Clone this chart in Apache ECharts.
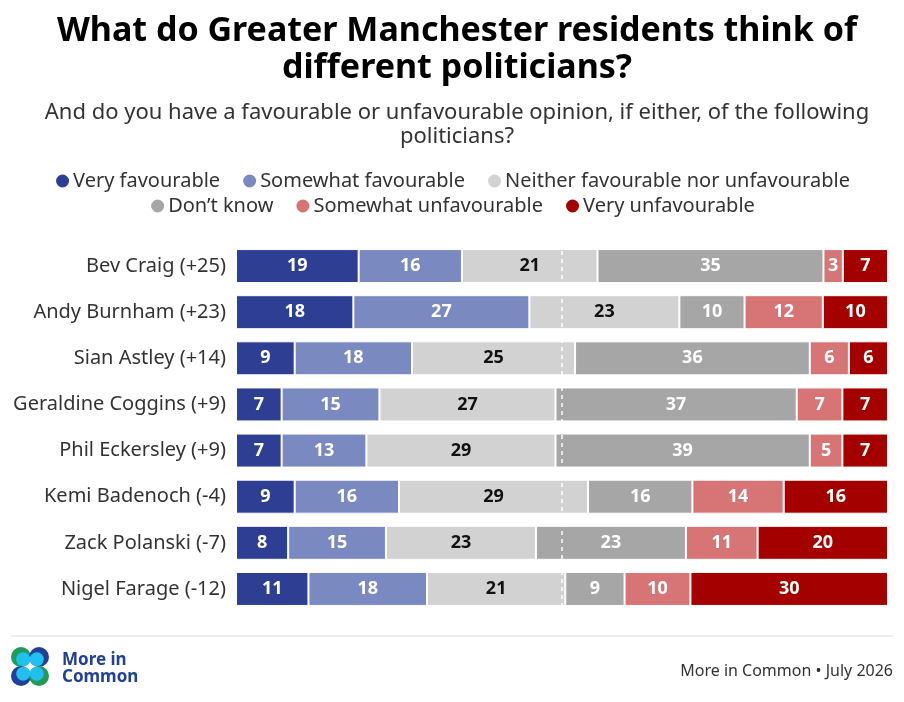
<!DOCTYPE html>
<html>
<head>
<meta charset="utf-8">
<script src="https://cdn.jsdelivr.net/npm/echarts@6/dist/echarts.min.js"></script>
<style>
html,body{margin:0;padding:0;background:#fff;}
#chart{width:904px;height:702px;}
</style>
</head>
<body>
<div id="chart"></div>
<script>
const categories = ['Bev Craig (+25)','Andy Burnham (+23)','Sian Astley (+14)','Geraldine Coggins (+9)','Phil Eckersley (+9)','Kemi Badenoch (-4)','Zack Polanski (-7)','Nigel Farage (-12)'];
const seriesNames = ['Very favourable','Somewhat favourable','Neither favourable nor unfavourable','Don\u2019t know','Somewhat unfavourable','Very unfavourable'];
const veryFav      = [19,18, 9, 7, 7, 9, 8,11];
const somewhatFav  = [16,27,18,15,13,16,15,18];
const neither      = [21,23,25,27,29,29,23,21];
const dontKnow     = [35,10,36,37,39,16,23, 9];
const somewhatUnf  = [ 3,12, 6, 7, 5,14,11,10];
const veryUnf      = [ 7,10, 6, 7, 7,16,20,30];
const colors = ['#2e3f93','#7b89c1','#d2d2d2','#a6a6a6','#d67476','#a50000'];
const labelColors = ['#fff','#fff','#111','#fff','#fff','#fff'];

const allSeries = [veryFav, somewhatFav, neither, dontKnow, somewhatUnf, veryUnf];
const totals = categories.map((c,i)=>allSeries.reduce((s,arr)=>s+arr[i],0));

const FONT = 'Noto Sans';
const chart = echarts.init(document.getElementById('chart'), null, {renderer:'canvas'});

const series = allSeries.map((arr, k) => {
  const s = {
    name: seriesNames[k],
    type: 'bar',
    stack: 'total',
    barWidth: 34,
    data: arr.map((v,i)=>({value: v/totals[i]*100, raw: v})),
    itemStyle: {color: colors[k], borderColor:'#fff', borderWidth:1},
    label: {
      show: true,
      position: 'inside',
      formatter: p => p.data.raw,
      color: labelColors[k],
      fontFamily: FONT,
      fontWeight: 'bold',
      fontSize: 18
    },
    emphasis: {disabled: true}
  };
  if (k === allSeries.length - 1) {
    s.markLine = {
      silent: true,
      symbol: 'none',
      label: {show:false},
      lineStyle: {color:'#fff', type:[4,4], width:1.5},
      data: [{xAxis: 50}]
    };
  }
  return s;
});

const legendCommon = {
  left: 'center',
  icon: 'circle',
  itemWidth: 15,
  itemHeight: 15,
  itemGap: 21,
  selectedMode: false,
  textStyle: {fontFamily: FONT, fontSize: 20, color:'#333', padding:[0,0,0,-2]}
};

chart.setOption({
  animation: false,
  color: colors,
  title: [
    {
      text: 'What do Greater Manchester residents think of\ndifferent politicians?',
      left: 452, top: 8,
      textAlign: 'center',
      textStyle: {fontFamily: FONT, fontWeight: 'bold', fontSize: 34, color:'#000', lineHeight: 37}
    },
    {
      text: 'And do you have a favourable or unfavourable opinion, if either, of the following\npoliticians?',
      left: 452, top: 96,
      textAlign: 'center',
      textStyle: {fontFamily: FONT, fontWeight: 'normal', fontSize: 22, color:'#333', lineHeight: 24}
    },
    {
      text: 'More in Common \u2022 July 2026',
      right: 6, top: 658,
      textStyle: {fontFamily: FONT, fontWeight:'normal', fontSize: 16, color:'#333'}
    }
  ],
  legend: [
    Object.assign({}, legendCommon, {top: 166, data: seriesNames.slice(0,3)}),
    Object.assign({}, legendCommon, {top: 191, data: seriesNames.slice(3)})
  ],
  grid: {left: 236, right: 16, top: 243, bottom: 90, containLabel: false},
  xAxis: {type:'value', min:0, max:100, show:false},
  yAxis: {
    type:'category', data: categories, inverse: true,
    axisLine:{show:false}, axisTick:{show:false}, splitLine:{show:false},
    axisLabel:{fontFamily: FONT, fontSize: 20, color:'#333', margin: 10}
  },
  graphic: [
    {type:'line', shape:{x1:11,y1:636,x2:893,y2:636}, style:{stroke:'#dcdcdc', lineWidth:1}},
    {type:'circle', shape:{cx:21,cy:657,r:10}, style:{fill:'#1f9b5a'}},
    {type:'circle', shape:{cx:39,cy:657,r:10}, style:{fill:'#21409a'}},
    {type:'circle', shape:{cx:21,cy:676,r:10}, style:{fill:'#21409a'}},
    {type:'circle', shape:{cx:39,cy:676,r:10}, style:{fill:'#1f9b5a'}},
    {type:'circle', shape:{cx:23.2,cy:659.2,r:7}, style:{fill:'#22c0ee'}},
    {type:'circle', shape:{cx:36.8,cy:659.2,r:7}, style:{fill:'#22c0ee'}},
    {type:'circle', shape:{cx:23.2,cy:673.8,r:7}, style:{fill:'#22c0ee'}},
    {type:'circle', shape:{cx:36.8,cy:673.8,r:7}, style:{fill:'#22c0ee'}},
    {type:'text', left:62, top:652, style:{text:'More in\nCommon', fill:'#21409a', font:'bold 17px '+FONT, lineHeight:17}}
  ],
  series: series
});
</script>
</body>
</html>
